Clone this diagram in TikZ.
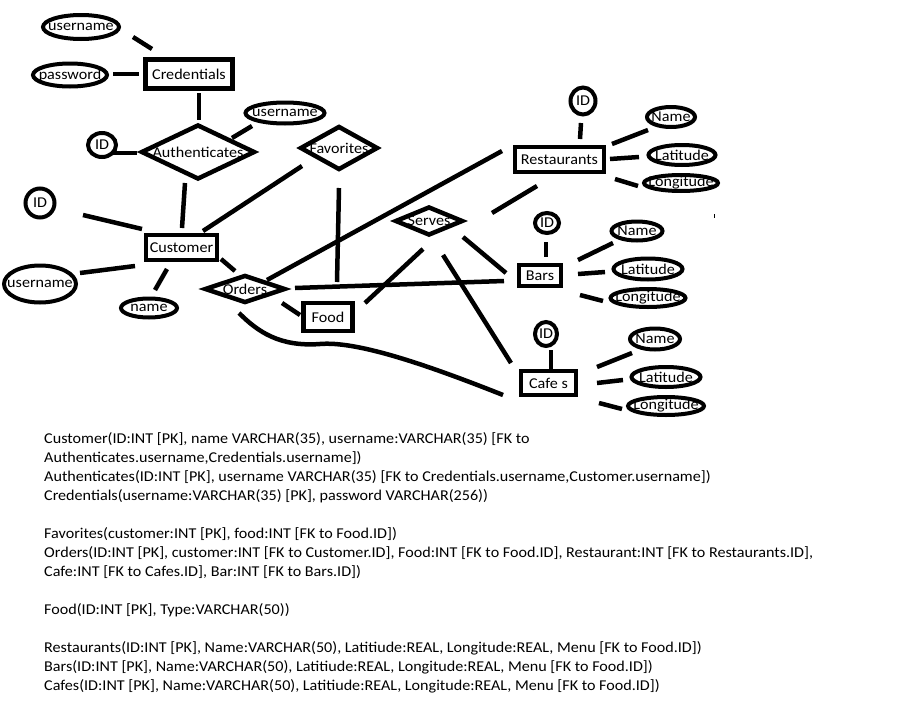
\documentclass[tikz,border=0pt]{standalone}
\usepackage{fontspec}
\setmainfont{Carlito}[FakeStretch=1.075]
\usetikzlibrary{shapes.geometric}
\begin{document}
\begin{tikzpicture}[x=1pt,y=-1pt,
  every node/.style={font=\fontsize{15}{19}\selectfont},
  ent/.style={draw, rectangle, line width=4.5pt, inner sep=0pt},
  attr/.style={draw, ellipse, line width=4pt, inner sep=0pt},
  rel/.style={draw, diamond, line width=4.5pt, inner sep=0pt},
  conn/.style={line width=4.5pt},
  schemaline/.style={anchor=base west, inner sep=0pt}]
\fill[white] (0,0) rectangle (898,707);
\useasboundingbox (0,0) rectangle (898,707);

% ---------- entities ----------
\node[ent, minimum width=87pt, minimum height=29pt] (cred)  at (189,74)    {Credentials};
\node[ent, minimum width=71pt, minimum height=25pt] (cust)  at (181.5,247.5) {Customer};
\node[ent, minimum width=49pt, minimum height=28pt] (food)  at (328,317)   {Food};
\node[ent, minimum width=89pt, minimum height=25pt] (rest)  at (559.5,159.5) {Restaurants};
\node[ent, minimum width=42pt, minimum height=21pt] (bars)  at (540,275.5) {Bars};
\node[ent, minimum width=55pt, minimum height=24pt] (cafes) at (548.5,383) {Cafe s};

% ---------- relationships ----------
\node[rel, minimum width=114pt, minimum height=55pt, label={center:Authenticates}] (auth) at (198,152) {};
\node[rel, minimum width=78pt, minimum height=44pt, label={center:Favorites}] (fav) at (339,148) {};
\node[rel, minimum width=81pt, minimum height=28pt, label={center:Orders}] (orders) at (245,289) {};
\node[rel, minimum width=68pt, minimum height=29pt, label={center:Serves}] (serves) at (429,221) {};

% ---------- attributes ----------
\node[attr, minimum width=76pt, minimum height=24pt, label={center:username}] (user1) at (81,27) {};
\node[attr, minimum width=74pt, minimum height=23pt, label={center:password}] (pass) at (70,75) {};
\node[attr, minimum width=79pt, minimum height=21pt, label={center:username}] (user2) at (285,113) {};
\node[attr, minimum width=28pt, minimum height=24pt, label={center:ID}] (idA) at (102,145) {};
\node[attr, minimum width=29pt, minimum height=29pt, label={center:ID}] (idC) at (40,203) {};
\node[attr, minimum width=72pt, minimum height=37pt, label={center:username}] (user3) at (40,284) {};
\node[attr, minimum width=56pt, minimum height=19pt, label={center:name}] (name) at (149,308) {};

\node[attr, minimum width=25pt, minimum height=27pt, label={center:ID}] (idR) at (583,101) {};
\node[attr, minimum width=48pt, minimum height=20pt, label={center:Name}] (nameR) at (671,117) {};
\node[attr, minimum width=67pt, minimum height=20pt, label={center:Latitude}] (latR) at (682,155) {};
\node[attr, minimum width=74pt, minimum height=16pt, label={center:Longitude}] (lonR) at (681,183) {};

\node[attr, minimum width=24pt, minimum height=20pt, label={center:ID}] (idB) at (547,223) {};
\node[attr, minimum width=51pt, minimum height=19pt, label={center:Name}] (nameB) at (637,231) {};
\node[attr, minimum width=69pt, minimum height=21pt, label={center:Latitude}] (latB) at (648,269) {};
\node[attr, minimum width=75pt, minimum height=18pt, label={center:Longitude}] (lonB) at (648,298) {};

\node[attr, minimum width=22pt, minimum height=24pt, label={center:ID}] (idCf) at (546,334) {};
\node[attr, minimum width=50pt, minimum height=21pt, label={center:Name}] (nameCf) at (655,339) {};
\node[attr, minimum width=69pt, minimum height=20pt, label={center:Latitude}] (latCf) at (666,377) {};
\node[attr, minimum width=76pt, minimum height=18pt, label={center:Longitude}] (lonCf) at (666,406) {};

% ---------- connectors ----------
\draw[conn] ([shift={(52,10)}]user1.center) -- ([shift={(-37,-25)}]cred.center);
\draw[conn] ([shift={(43,-1)}]pass.center) -- ([shift={(-50,0)}]cred.center);
\draw[conn] ([shift={(10,19)}]cred.center) -- ([shift={(1,-32)}]auth.center);
\draw[conn] ([shift={(-33,13)}]user2.center) -- ([shift={(34,-14)}]auth.center);
\draw[conn] ([shift={(11,8)}]idA.center) -- ([shift={(-61,1)}]auth.center);
\draw[conn] ([shift={(-13,31)}]auth.center) -- ([shift={(0.5,-19.5)}]cust.center);
\draw[conn] ([shift={(43,12)}]idC.center) -- ([shift={(-39.5,-18.5)}]cust.center);
\draw[conn] ([shift={(40,-11)}]user3.center) -- ([shift={(-46.5,18.5)}]cust.center);
\draw[conn] ([shift={(6,-18)}]name.center) -- ([shift={(-14.5,21.5)}]cust.center);
\draw[conn] ([shift={(39.5,11.5)}]cust.center) -- ([shift={(-10,-18)}]orders.center);
\draw[conn] ([shift={(21.5,-16.5)}]cust.center) -- ([shift={(-37,18)}]fav.center);
\draw[conn] ([shift={(0,40)}]fav.center) -- ([shift={(9,-35)}]food.center);
\draw[conn] ([shift={(22,-9)}]orders.center) -- ([shift={(-57.5,-8.5)}]rest.center);
\draw[conn] ([shift={(50,-1)}]orders.center) -- ([shift={(-36,5.5)}]bars.center);
\draw[conn] ([shift={(37,14)}]orders.center) -- ([shift={(-28,-2)}]food.center);
\draw[conn] ([shift={(37,-14)}]food.center) -- ([shift={(-6,28)}]serves.center);
\draw[conn] ([shift={(63,-8)}]serves.center) -- ([shift={(-22.5,26.5)}]rest.center);
\draw[conn] ([shift={(34,16)}]serves.center) -- ([shift={(-34,-2.5)}]bars.center);
\draw[conn] ([shift={(14,34)}]serves.center) -- ([shift={(-37.5,-20)}]cafes.center);
\draw[conn] ([shift={(-6,24)}]orders.center)
   .. controls ([shift={(13,43)}]orders.center) and ([shift={(35,58)}]orders.center) .. ([shift={(75,55)}]orders.center)
   .. controls ([shift={(-193.5,-42)}]cafes.center) and ([shift={(-128.5,-21)}]cafes.center) .. ([shift={(-45.5,12)}]cafes.center);

\draw[conn] ([shift={(-2,22)}]idR.center) -- ([shift={(20.5,-20.5)}]rest.center);
\draw[conn] ([shift={(52.5,-15.5)}]rest.center) -- ([shift={(-23,13)}]nameR.center);
\draw[conn] ([shift={(50.5,-0.5)}]rest.center) -- ([shift={(-43,2)}]latR.center);
\draw[conn] ([shift={(55.5,19.5)}]rest.center) -- ([shift={(-43,3)}]lonR.center);

\draw[conn] ([shift={(-1,19)}]idB.center) -- ([shift={(6,-18.5)}]bars.center);
\draw[conn] ([shift={(38,-15.5)}]bars.center) -- ([shift={(-24,12)}]nameB.center);
\draw[conn] ([shift={(38,-1.5)}]bars.center) -- ([shift={(-43,3)}]latB.center);
\draw[conn] ([shift={(40,19.5)}]bars.center) -- ([shift={(-45,3)}]lonB.center);

\draw[conn] ([shift={(5,16)}]idCf.center) -- ([shift={(2.5,-14)}]cafes.center);
\draw[conn] ([shift={(48.5,-16)}]cafes.center) -- ([shift={(-23,14)}]nameCf.center);
\draw[conn] ([shift={(48.5,0)}]cafes.center) -- ([shift={(-43,3)}]latCf.center);
\draw[conn] ([shift={(50.5,20)}]cafes.center) -- ([shift={(-44,3)}]lonCf.center);

% small speck
\fill (713.5,214) rectangle (714.8,217.5);

% ---------- schema text ----------
\node[schemaline] (s1)  at (44,443) {Customer(ID:INT [PK], name VARCHAR(35), username:VARCHAR(35) [FK to};
\node[schemaline] (s2)  at (44,462) {Authenticates.username,Credentials.username])};
\node[schemaline] (s3)  at (44,481) {Authenticates(ID:INT [PK], username VARCHAR(35) [FK to Credentials.username,Customer.username])};
\node[schemaline] (s4)  at (44,500) {Credentials(username:VARCHAR(35) [PK], password VARCHAR(256))};
\node[schemaline] (s5)  at (44,538) {Favorites(customer:INT [PK], food:INT [FK to Food.ID])};
\node[schemaline] (s6)  at (44,557) {Orders(ID:INT [PK], customer:INT [FK to Customer.ID], Food:INT [FK to Food.ID], Restaurant:INT [FK to Restaurants.ID],};
\node[schemaline] (s7)  at (44,576) {Cafe:INT [FK to Cafes.ID], Bar:INT [FK to Bars.ID])};
\node[schemaline] (s8)  at (44,614) {Food(ID:INT [PK], Type:VARCHAR(50))};
\node[schemaline] (s9)  at (44,652) {Restaurants(ID:INT [PK], Name:VARCHAR(50), Latitiude:REAL, Longitude:REAL, Menu [FK to Food.ID])};
\node[schemaline] (s10) at (44,671) {Bars(ID:INT [PK], Name:VARCHAR(50), Latitiude:REAL, Longitude:REAL, Menu [FK to Food.ID])};
\node[schemaline] (s11) at (44,690) {Cafes(ID:INT [PK], Name:VARCHAR(50), Latitiude:REAL, Longitude:REAL, Menu [FK to Food.ID])};
\end{tikzpicture}
\end{document}
